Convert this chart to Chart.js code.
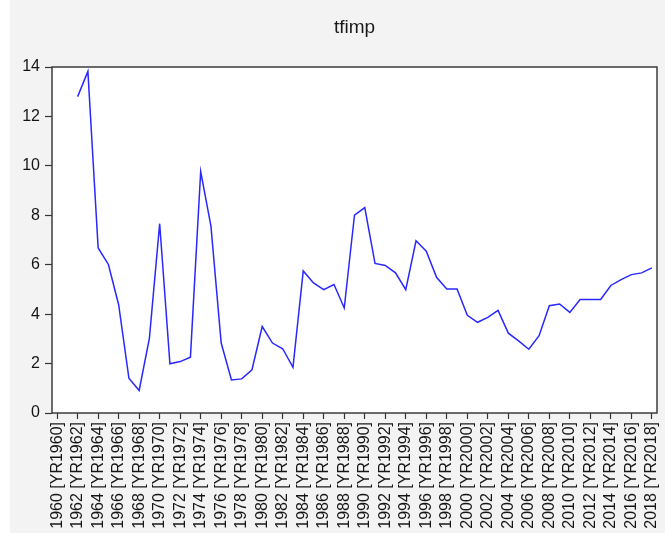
<!DOCTYPE html>
<html>
<head>
<meta charset="utf-8">
<script src="https://cdn.jsdelivr.net/npm/chart.js@4/dist/chart.umd.min.js"></script>
<style>
  html, body { margin: 0; padding: 0; background: #ffffff; }
  #frame {
    position: absolute; left: 10px; top: 0; width: 655px; height: 533px;
    overflow: hidden; background: #f3f3f3;
  }
  canvas { display: block; }
</style>
</head>
<body>
<div id="frame"><canvas id="myChart" width="655" height="580"></canvas></div>
<script>
// years 1960..2018, World Bank style labels
const years = [];
for (let y = 1960; y <= 2018; y++) years.push(y);
const labels = years.map((y) => y + " [YR" + y + "]");

// tfimp (no value for 1960, 1961)
const tfimp = [
  null, null, 12.80, 13.82, 6.68, 6.01, 4.38, 1.41, 0.91, 3.03,
  7.66, 1.99, 2.08, 2.26, 9.77, 7.56, 2.83, 1.34, 1.38, 1.75,
  3.50, 2.83, 2.60, 1.85, 5.75, 5.26, 4.99, 5.20, 4.25, 8.01,
  8.31, 6.05, 5.97, 5.67, 4.99, 6.97, 6.55, 5.49, 5.02, 5.02,
  3.95, 3.67, 3.87, 4.15, 3.23, 2.92, 2.58, 3.13, 4.34, 4.41,
  4.07, 4.59, 4.59, 4.59, 5.16, 5.40, 5.60, 5.67, 5.87,
];

const yTicks = [0, 2, 4, 6, 8, 10, 12, 14];

const frameBox = {
  id: "frameBox",
  beforeDraw(chart) {
    const { ctx, chartArea: a } = chart;
    ctx.save();
    ctx.fillStyle = "#ffffff";
    ctx.fillRect(a.left, a.top, a.right - a.left, a.bottom - a.top);
    ctx.restore();
  },
  afterDraw(chart) {
    const { ctx, chartArea: a } = chart;
    ctx.save();
    ctx.strokeStyle = "#3c3c3c";
    ctx.lineWidth = 1.5;
    ctx.strokeRect(a.left, a.top, a.right - a.left, a.bottom - a.top);
    ctx.restore();
  },
};

const canvas = document.getElementById("myChart");
new Chart(canvas, {
  type: "line",
  data: {
    labels: labels,
    datasets: [
      {
        label: "tfimp",
        data: tfimp,
        borderColor: "#2828ff",
        borderWidth: 1.5,
        pointRadius: 0,
        tension: 0,
        fill: false,
      },
    ],
  },
  options: {
    responsive: false,
    animation: false,
    layout: { padding: { left: 0, right: 8, top: 0, bottom: 0 } },
    plugins: {
      legend: { display: false },
      tooltip: { enabled: false },
      title: {
        display: true,
        text: "tfimp",
        fullSize: false,
        color: "#1a1a1a",
        font: { family: "Arial, 'Liberation Sans', sans-serif", size: 19, weight: "normal" },
        padding: { top: 16, bottom: 28.2 },
      },
    },
    scales: {
      x: {
        type: "category",
        offset: true,
        grid: {
          display: true,
          drawOnChartArea: false,
          drawTicks: true,
          tickLength: 6,
          tickWidth: 1.2,
          tickColor: "#333333",
          offset: false,
        },
        border: { display: false },
        ticks: {
          autoSkip: false,
          minRotation: 90,
          maxRotation: 90,
          padding: 3,
          color: "#151515",
          font: { family: "Arial, 'Liberation Sans', sans-serif", size: 16 },
          callback: function (value, index) {
            return index % 2 === 0 ? this.getLabelForValue(value) : null;
          },
        },
        afterFit(scale) {
          scale.height = 580 - 413;
          scale.paddingLeft = 0;
          scale.paddingRight = 0;
        },
      },
      y: {
        min: 0,
        max: 14,
        afterBuildTicks(scale) {
          scale.ticks = yTicks.map((v) => ({ value: v }));
        },
        grid: {
          display: true,
          drawOnChartArea: false,
          drawTicks: true,
          tickLength: 7,
          tickWidth: 1.2,
          tickColor: "#333333",
        },
        border: { display: false },
        ticks: {
          padding: 5,
          color: "#151515",
          font: { family: "Arial, 'Liberation Sans', sans-serif", size: 16 },
        },
        afterFit(scale) {
          scale.width = 42;
        },
      },
    },
  },
  plugins: [frameBox],
});
</script>
</body>
</html>
